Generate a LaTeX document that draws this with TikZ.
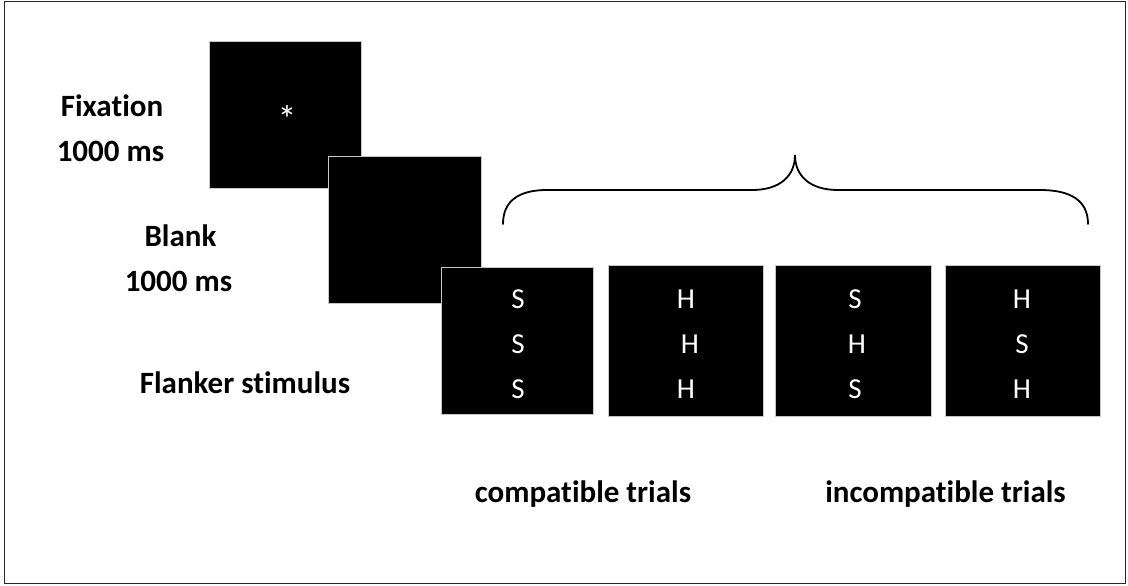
\documentclass[tikz,border=0pt]{standalone}
\usepackage{fontspec}
\setmainfont{Carlito}[Ligatures=NoCommon]
\begin{document}
\begin{tikzpicture}[x=1pt,y=-1pt,
  screen/.style={draw=gray!45,line width=0.9pt,fill=black,inner sep=0pt,minimum width=#1},
  screen/.default=153pt,
  letter/.style={text=white,inner sep=0pt,font=\fontsize{29}{29}\selectfont},
  label/.style={inner sep=0pt,anchor=base,font=\bfseries\fontsize{31}{31}\selectfont},
  brace/.style={line width=1.8pt,line cap=round}]
\useasboundingbox (0,0) rectangle (1128,586);
\draw[line width=1pt,draw=black!85] (4,1.5) rectangle (1125,583.5);
% screens
\node[screen=152pt,minimum height=147pt] (fix) at (285,114.5) {};
\node[screen,minimum height=147pt] (blank) at (404.5,229.5) {};
\node[screen=152pt,minimum height=147pt] (f1) at (517,340.5) {};
\node[screen=155pt,minimum height=151pt] (f2) at (686,340.5) {};
\node[screen=156pt,minimum height=151pt] (f3) at (853,340.5) {};
\node[screen=155pt,minimum height=151pt] (f4) at (1022.5,340.5) {};
% fixation asterisk
\node[text=white,inner sep=0pt,font=\fontsize{38}{38}\selectfont] (ast) at (287,119) {*};
% flanker letters
\node[letter] (a1) at (518,299) {S};
\node[letter] (a2) at (518,344) {S};
\node[letter] (a3) at (518,389) {S};
\node[letter] (b1) at (686,299) {H};
\node[letter] (b2) at (690,344) {H};
\node[letter] (b3) at (686,389) {H};
\node[letter] (c1) at (855,299) {S};
\node[letter] (c2) at (857,344) {H};
\node[letter] (c3) at (855,389) {S};
\node[letter] (d1) at (1022,299) {H};
\node[letter] (d2) at (1022,344) {S};
\node[letter] (d3) at (1022,389) {H};
% labels
\node[label] (fixl) at (112,117) {Fixation};
\node[label] (fixt) at (110.5,161) {1000 ms};
\node[label] (blkl) at (180.5,246.5) {Blank};
\node[label] (blkt) at (178.5,291.5) {1000 ms};
\node[label] (flk) at (245,393) {Flanker stimulus};
\node[label] (comp) at (583,502) {compatible trials};
\node[label] (inc) at (945.5,502) {incompatible trials};
% brace
\coordinate (bl) at (503,224);
\coordinate (bt) at (795,155);
\coordinate (br) at (1088,224);
\draw[brace] (bl) .. controls (503,200) and (520,190) .. (547,190)
  -- (752,190) .. controls (780,190) and (795,176) .. (bt)
  .. controls (795,176) and (810,190) .. (838,190)
  -- (1040,190) .. controls (1070,190) and (1088,200) .. (br);
\end{tikzpicture}
\end{document}
